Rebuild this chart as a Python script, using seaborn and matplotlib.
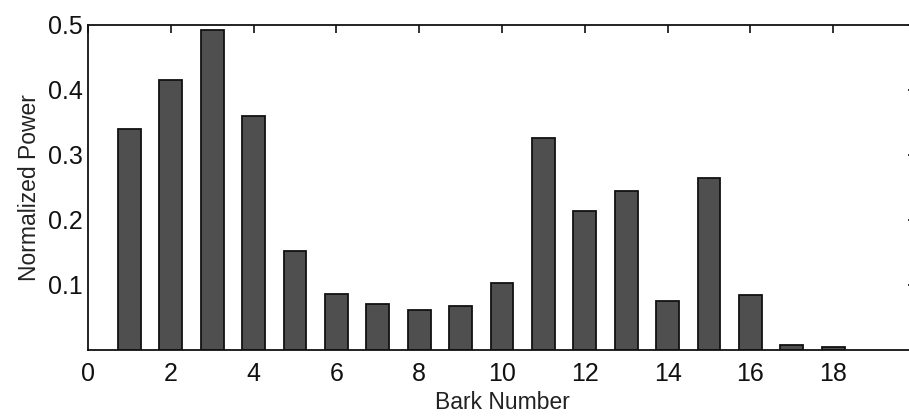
import matplotlib
matplotlib.use("Agg")
import matplotlib.pyplot as plt
import seaborn as sns
import pandas as pd

bark_number = [1, 2, 3, 4, 5, 6, 7, 8, 9, 10, 11, 12, 13, 14, 15, 16, 17, 18]
normalized_power = [0.340, 0.416, 0.492, 0.360, 0.152, 0.086, 0.070, 0.062, 0.068,
                    0.103, 0.326, 0.214, 0.244, 0.075, 0.265, 0.085, 0.008, 0.005]
x_ticks = [0, 2, 4, 6, 8, 10, 12, 14, 16, 18]
y_ticks = [0.1, 0.2, 0.3, 0.4, 0.5]

sns.set_style("white")
plt.rcParams['font.family'] = ['Liberation Sans', 'DejaVu Sans']

df = pd.DataFrame({"bark": bark_number, "power": normalized_power})

fig = plt.figure(figsize=(9.09, 4.18), dpi=100)
ax = fig.add_axes([0.0968, 0.1627, 0.911, 0.7775])
sns.barplot(data=df, x="bark", y="power", native_scale=True, width=0.55,
            color="#4f4f4f", saturation=1, edgecolor="#111111", linewidth=1.3, ax=ax)

ax.set_xlim(0, 20)
ax.set_ylim(0, 0.5)
ax.set_xticks(x_ticks)
ax.set_xticklabels([str(t) for t in x_ticks])
ax.set_yticks(y_ticks)
ax.set_yticklabels([f"{t:.1f}" for t in y_ticks])
ax.tick_params(direction="in", length=6, width=1.2, top=True, right=True,
               labelsize=18, colors="#111111")
ax.tick_params(axis="x", pad=9)
ax.tick_params(axis="y", pad=4)
for s in ax.spines.values():
    s.set_visible(True)
    s.set_color("#111111")
    s.set_linewidth(1.3)
ax.set_xlabel("Bark Number", fontsize=16.5, color="#222222", labelpad=3)
ax.set_ylabel("Normalized Power", fontsize=16.5, color="#222222", labelpad=5)

fig.savefig("out.png", dpi=100)
